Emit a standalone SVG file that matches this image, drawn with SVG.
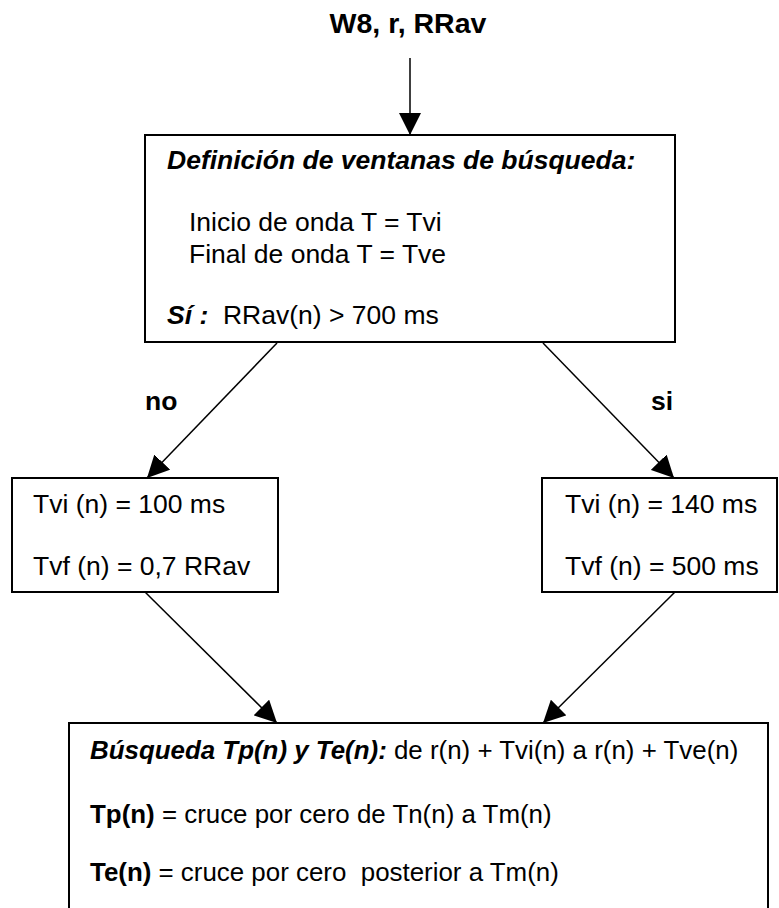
<svg xmlns="http://www.w3.org/2000/svg" width="779" height="908" viewBox="0 0 779 908">
<defs>
<marker id="ah" markerUnits="userSpaceOnUse" markerWidth="22" markerHeight="22" viewBox="0 0 20 20" refX="20" refY="10" orient="auto">
<path d="M0,0 L20,10 L0,20 Z" fill="#000"/>
</marker>
<style>
.box{fill:#fff;stroke:#000;stroke-width:2}
.t{font-family:"Liberation Sans",Arial,sans-serif;font-size:26.5px;fill:#000}
.b{font-family:"Liberation Sans",Arial,sans-serif;font-size:26.5px;font-weight:bold;fill:#000}
.bi{font-weight:bold;font-style:italic}
.bo{font-weight:bold}
.s{font-size:25.9px}
.c{stroke:#000;stroke-width:1.5;fill:none;marker-end:url(#ah)}
</style>
</defs>
<rect width="779" height="908" fill="#fff"/>
<g id="input">
<text class="b" x="408" y="33" text-anchor="middle" style="font-size:28.5px">W8, r, RRav</text>
</g>
<g id="connectors">
<line class="c" x1="410" y1="58" x2="410" y2="135"/>
<line class="c" x1="277" y1="343" x2="147" y2="478"/>
<line class="c" x1="543" y1="343" x2="674" y2="478"/>
<line class="c" x1="145" y1="592" x2="277" y2="723"/>
<line class="c" x1="675" y1="592" x2="543" y2="723"/>
</g>
<g id="labels">
<text class="b" x="145" y="410">no</text>
<text class="b" x="651" y="410">si</text>
</g>
<g id="definicion">
<rect class="box" x="145" y="135" width="530" height="207"/>
<text class="t bi" x="167" y="169">Definición de ventanas de búsqueda:</text>
<text class="t" x="189" y="231">Inicio de onda T = Tvi</text>
<text class="t" x="189" y="263">Final de onda T = Tve</text>
<text class="t" x="167" y="324" xml:space="preserve"><tspan class="bi">Sí :</tspan>  RRav(n) &gt; 700 ms</text>
</g>
<g id="no-branch">
<rect class="box" x="12" y="478" width="266" height="114"/>
<text class="t" x="33" y="513">Tvi (n) = 100 ms</text>
<text class="t" x="33" y="575">Tvf (n) = 0,7 RRav</text>
</g>
<g id="si-branch">
<rect class="box" x="542" y="478" width="235" height="114"/>
<text class="t" x="565" y="513">Tvi (n) = 140 ms</text>
<text class="t" x="565" y="575">Tvf (n) = 500 ms</text>
</g>
<g id="busqueda">
<rect class="box" x="69" y="723" width="699" height="200"/>
<text class="t s" x="90" y="759"><tspan class="bi">Búsqueda Tp(n) y Te(n):</tspan> de r(n) + Tvi(n) a r(n) + Tve(n)</text>
<text class="t s" x="90" y="823"><tspan class="bo">Tp(n)</tspan> = cruce por cero de Tn(n) a Tm(n)</text>
<text class="t s" x="90" y="881" xml:space="preserve"><tspan class="bo">Te(n)</tspan> = cruce por cero  posterior a Tm(n)</text>
</g>
</svg>
